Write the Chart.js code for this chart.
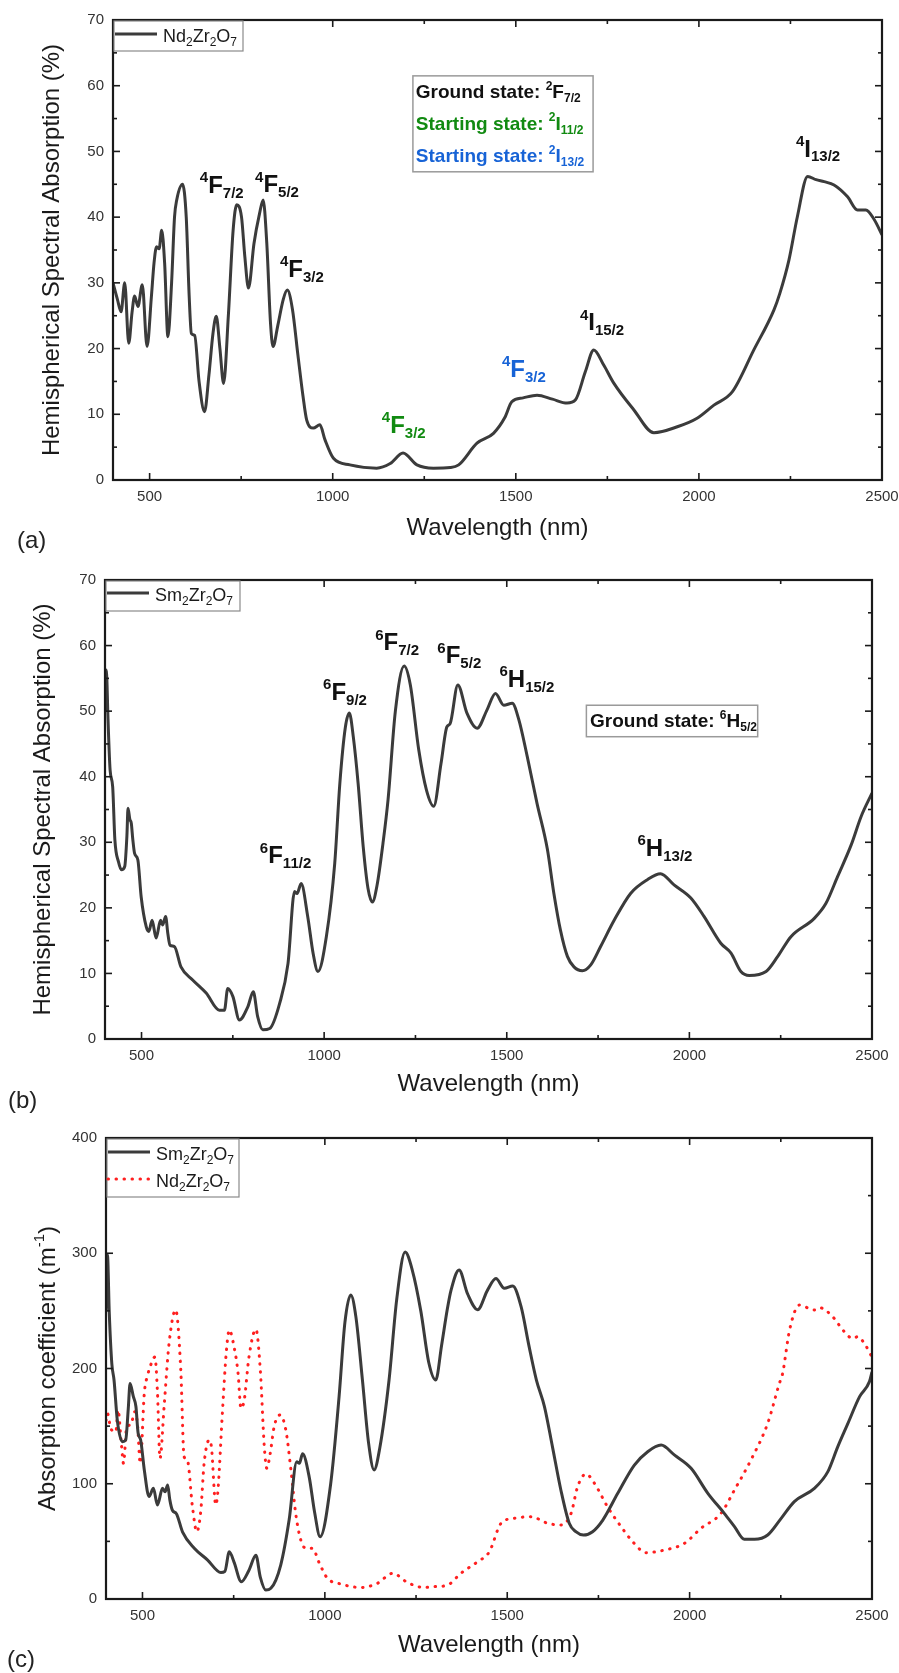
<!DOCTYPE html>
<html>
<head>
<meta charset="utf-8">
<script src="https://cdn.jsdelivr.net/npm/chart.js@4.4.1/dist/chart.umd.min.js"></script>
<style>
  body { margin: 0; background: #fff; width: 899px; height: 1673px; position: relative; overflow: hidden;
         font-family: 'Liberation Sans', Arial, sans-serif; }
  .panel { position: absolute; left: 0; width: 899px; }
  .tag { position: absolute; font-size: 24px; line-height: 28px; color: #222; }
</style>
</head>
<body>
<div class="panel" style="top:0;height:548px"><canvas id="chartA"></canvas></div>
<div class="panel" style="top:548px;height:560px"><canvas id="chartB"></canvas></div>
<div class="panel" style="top:1108px;height:565px"><canvas id="chartC"></canvas></div>
<div class="tag" style="left:17px;top:526px">(a)</div>
<div class="tag" style="left:8px;top:1086px">(b)</div>
<div class="tag" style="left:7px;top:1645px">(c)</div>

<script>
// ---- panel (a): Nd2Zr2O7, hemispherical spectral absorption (%)
const ndWaveA = [400, 412, 422, 432, 443, 452, 459, 468, 480, 493, 505, 512, 519, 526, 533, 541, 550, 560, 568, 574,
  590, 600, 608, 614, 623, 635, 650, 662, 673, 682, 692, 702, 715, 728, 738, 751, 760, 770, 785, 800,
  810, 820, 830, 837, 850, 865, 876, 890, 905, 919, 929, 947, 965, 979, 1002, 1047, 1120, 1157, 1192, 1230,
  1275, 1321, 1344, 1394, 1439, 1470, 1489, 1520, 1558, 1600, 1640, 1663, 1690, 1713, 1740, 1768, 1822, 1877, 1941, 1995,
  2041, 2091, 2150, 2205, 2221, 2246, 2269, 2297, 2320, 2342, 2369, 2406, 2433, 2456, 2479, 2500];
const ndAbsA = [30.0, 27.5, 25.6, 30.0, 20.8, 25.5, 28.0, 26.4, 29.7, 20.3, 28.0, 33.0, 35.5, 35.2, 38.0, 33.0, 21.8, 30.0, 40.0, 42.6,
  45.0, 40.0, 28.0, 22.3, 22.0, 15.0, 10.4, 16.0, 22.3, 24.9, 20.0, 14.7, 25.0, 38.0, 41.9, 40.0, 34.0, 29.2, 36.0, 40.5,
  42.6, 36.0, 24.0, 20.3, 23.5, 27.5, 28.9, 26.0, 19.0, 12.7, 9.1, 7.9, 8.4, 6.1, 3.3, 2.3, 1.8, 2.5, 4.1, 2.3,
  1.8, 1.9, 2.3, 5.6, 7.1, 9.5, 11.9, 12.5, 12.9, 12.3, 11.7, 12.2, 16.5, 19.8, 17.5, 14.7, 10.7, 7.2, 8.1, 9.4,
  11.4, 13.4, 19.8, 25.9, 28.4, 33.5, 40.1, 46.2, 45.7, 45.4, 44.9, 43.1, 41.1, 41.1, 39.6, 37.3];

// ---- panel (b): Sm2Zr2O7, hemispherical spectral absorption (%)
const smWaveB = [400, 402, 405, 408, 414, 421, 427, 437, 445, 454, 460, 463, 468, 472, 476, 481, 490, 499, 513, 520,
  529, 540, 552, 558, 566, 572, 578, 590, 608, 640, 677, 713, 727, 736, 750, 768, 791, 806, 818, 832,
  851, 878, 901, 919, 926, 937, 955, 970, 983, 1006, 1029, 1043, 1058, 1069, 1080, 1093, 1107, 1120, 1132, 1145,
  1161, 1175, 1195, 1219, 1236, 1259, 1280, 1300, 1320, 1336, 1345, 1366, 1391, 1419, 1446, 1469, 1492, 1515, 1533, 1556,
  1583, 1611, 1629, 1647, 1666, 1684, 1707, 1730, 1757, 1794, 1839, 1885, 1921, 1958, 2004, 2040, 2086, 2114, 2141, 2164,
  2210, 2242, 2278, 2342, 2374, 2406, 2443, 2470, 2500];
const smAbsB = [50.0, 56.3, 55.0, 49.2, 41.0, 38.5, 30.4, 27.0, 25.8, 26.3, 31.0, 35.2, 33.5, 32.9, 30.5, 28.3, 27.3, 21.7, 17.1, 16.4,
  18.1, 15.4, 18.1, 17.4, 18.7, 16.1, 14.3, 14.1, 11.0, 9.0, 7.0, 4.4, 4.4, 7.7, 6.5, 2.9, 4.9, 7.2, 3.4, 1.4,
  1.6, 5.4, 11.5, 22.5, 22.2, 23.7, 18.7, 13.0, 10.3, 15.6, 26.8, 39.0, 47.5, 49.7, 46.0, 39.0, 29.3, 23.0, 20.9, 23.5,
  29.8, 36.5, 50.0, 56.9, 54.0, 44.1, 38.0, 35.5, 42.0, 47.6, 48.1, 54.0, 49.7, 47.4, 50.2, 52.7, 50.9, 51.2, 48.7, 43.1,
  35.9, 29.0, 22.2, 16.6, 12.6, 11.0, 10.4, 11.3, 14.1, 18.1, 22.2, 24.3, 25.2, 23.5, 21.5, 18.7, 14.6, 13.1, 10.3, 9.7,
  10.3, 12.6, 15.6, 18.4, 20.7, 24.8, 29.6, 33.9, 37.5];

// ---- panel (c): absorption coefficient (m^-1)
const smWaveC = [400, 404, 409, 416, 422, 431, 445, 454, 461, 466, 475, 482, 488, 495, 505, 518, 530, 541, 555, 562,
  569, 575, 582, 593, 610, 642, 678, 715, 726, 738, 751, 771, 792, 811, 823, 838, 852, 879, 902, 923,
  930, 939, 957, 972, 987, 1016, 1039, 1055, 1071, 1085, 1103, 1120, 1135, 1150, 1176, 1197, 1220, 1240, 1263, 1285,
  1304, 1320, 1336, 1346, 1368, 1391, 1419, 1446, 1469, 1492, 1515, 1538, 1560, 1580, 1602, 1624, 1647, 1670, 1688, 1709,
  1734, 1762, 1803, 1848, 1885, 1922, 1958, 2004, 2050, 2095, 2123, 2150, 2178, 2214, 2251, 2287, 2342, 2379, 2406, 2434,
  2466, 2493, 2500];
const smCoefC = [250, 298.5, 248, 204, 190, 155, 136.5, 138, 165, 187, 175.5, 167, 144, 138, 112, 89, 96, 81.6, 96, 93,
  99, 86, 77, 74, 58, 44, 34, 23, 24, 41, 32, 15, 25, 38, 19, 7.8, 9.3, 29.5, 68.5, 119,
  117.7, 126, 106, 75, 54, 100, 175.6, 240, 263.8, 245, 190, 135, 112, 130, 190, 260, 301, 285, 250, 205,
  190, 220, 252, 268, 285.5, 265, 251, 268, 278, 269.6, 271.6, 253.6, 219, 190, 167, 132, 94.6, 65.7, 58.4, 55.5,
  58.4, 68.5, 91.7, 116, 127.8, 133.6, 125, 113.4, 91.7, 74.3, 62.8, 51.8, 51.8, 55.5, 70, 84.5, 96, 110.5, 132, 152.4,
  175.6, 188.6, 197];

const ndWaveC = [400, 404, 413, 427, 433, 442, 448, 457, 468, 479, 486, 494, 505, 514, 525, 534, 541, 548, 560, 573,
  591, 605, 614, 623, 637, 649, 660, 669, 683, 689, 701, 707, 719, 730, 738, 751, 762, 770, 779, 792,
  811, 823, 834, 841, 850, 861, 877, 893, 907, 920, 934, 948, 966, 985, 1007, 1044, 1099, 1144, 1186, 1227,
  1272, 1300, 1336, 1373, 1419, 1451, 1483, 1519, 1565, 1611, 1647, 1675, 1693, 1716, 1739, 1775, 1812, 1848, 1880, 1931,
  1986, 2031, 2086, 2123, 2168, 2214, 2246, 2255, 2274, 2301, 2342, 2356, 2388, 2424, 2447, 2461, 2479, 2500];
const ndCoefC = [155, 161, 148, 145, 164, 135, 117.7, 149.5, 151, 162.5, 152.4, 117.7, 178.5, 194, 205, 210, 180, 122, 170, 222,
  250.8, 198.7, 123.5, 120.6, 80, 58.4, 77, 117.7, 138, 132, 81.6, 94.6, 161, 215, 233.4, 219, 196, 165.4, 172.7, 210,
  234, 198.7, 132, 113.4, 126, 149.5, 159.7, 146.6, 112, 74.3, 51.2, 44, 44, 31, 18, 13, 10, 13.6, 22.3, 14.2,
  10, 10.7, 12, 22.3, 32.4, 41, 65.7, 70, 71.4, 65.7, 64.2, 74.3, 97.5, 108.5, 100.4, 80, 62.8, 48.3, 40.2, 42.5,
  48.3, 61.3, 74.3, 94.6, 120.6, 152.4, 187, 195.8, 233.4, 255, 250.8, 252.8, 246.4, 232, 226, 227.6, 221.8, 210];

// ---- ticks
const xMajorTicks = [500, 1000, 1500, 2000, 2500];
const xMinorTicks = [750, 1250, 1750, 2250];
const pctMajor = [0, 10, 20, 30, 40, 50, 60, 70];
const pctMinor = [5, 15, 25, 35, 45, 55, 65];
const coefMajor = [0, 100, 200, 300, 400];
const coefMinor = [50, 150, 250, 350];

const FAM = "'Liberation Sans', Arial, sans-serif";
const DARK = '#3b3b3b';
const RED = '#ff1f1f';
const GREEN = '#118a11';
const BLUE = '#1763d6';
Chart.defaults.font.family = FAM;

const pts = (xs, ys) => xs.map((x, i) => ({ x: x, y: ys[i] }));

// draws text with ^sup and _sub segments
function drawRich(ctx, parts, x, y, size, weight, color, align) {
  const segs = parts.map(p => {
    const mode = p[0] === '^' ? 'sup' : (p[0] === '_' ? 'sub' : 'n');
    const text = mode === 'n' ? p : p.slice(1);
    const s = mode === 'n' ? size : Math.round(size * 0.64);
    ctx.font = weight + ' ' + s + 'px ' + FAM;
    return { text, mode, s, w: ctx.measureText(text).width };
  });
  const total = segs.reduce((a, g) => a + g.w, 0);
  let cx = align === 'center' ? x - total / 2 : x;
  ctx.fillStyle = color;
  ctx.textAlign = 'left';
  ctx.textBaseline = 'alphabetic';
  segs.forEach(g => {
    ctx.font = weight + ' ' + g.s + 'px ' + FAM;
    const dy = g.mode === 'sup' ? -size * 0.44 : (g.mode === 'sub' ? size * 0.2 : 0);
    ctx.fillText(g.text, cx, y + dy);
    cx += g.w;
  });
}

// frame, inward ticks, legend, annotations
function makeDecor(cfg) {
  return {
    id: 'decor',
    afterDraw(chart) {
      const ctx = chart.ctx;
      const { left, right, top, bottom } = chart.chartArea;
      const xs = chart.scales.x, ys = chart.scales.y;
      ctx.save();
      ctx.strokeStyle = '#1a1a1a';
      ctx.lineWidth = 1.6;
      const seg = (x1, y1, x2, y2) => { ctx.beginPath(); ctx.moveTo(x1, y1); ctx.lineTo(x2, y2); ctx.stroke(); };
      xMajorTicks.forEach(v => { const p = xs.getPixelForValue(v); seg(p, bottom, p, bottom - 7); seg(p, top, p, top + 7); });
      xMinorTicks.forEach(v => { const p = xs.getPixelForValue(v); seg(p, bottom, p, bottom - 4); seg(p, top, p, top + 4); });
      cfg.yMajor.forEach(v => { const p = ys.getPixelForValue(v); seg(left, p, left + 7, p); seg(right, p, right - 7, p); });
      cfg.yMinor.forEach(v => { const p = ys.getPixelForValue(v); seg(left, p, left + 4, p); seg(right, p, right - 4, p); });
      ctx.lineWidth = 2.2;
      ctx.strokeRect(left, top, right - left, bottom - top);

      // legend box
      const lg = cfg.legend;
      ctx.fillStyle = '#fff';
      ctx.fillRect(left + 1, top + 1, lg.w, lg.h);
      ctx.strokeStyle = '#8a8a8a';
      ctx.lineWidth = 1.2;
      ctx.strokeRect(left + 1, top + 1, lg.w, lg.h);
      lg.items.forEach(it => {
        ctx.strokeStyle = it.color;
        ctx.lineWidth = 3;
        ctx.lineCap = it.dotted ? 'round' : 'butt';
        ctx.setLineDash(it.dotted ? [0.5, 7.5] : []);
        seg(left + 2, top + it.dy, left + 44, top + it.dy);
        ctx.setLineDash([]);
        ctx.lineCap = 'butt';
        drawRich(ctx, it.parts, left + 50, top + it.dy + 8, 18, 'normal', '#1a1a1a', 'left');
      });

      // info box
      if (cfg.box) {
        const b = cfg.box;
        const x0 = xs.getPixelForValue(b.x0), x1 = xs.getPixelForValue(b.x1);
        const y0 = ys.getPixelForValue(b.y0), y1 = ys.getPixelForValue(b.y1);
        ctx.strokeStyle = '#9a9a9a';
        ctx.lineWidth = 1.5;
        ctx.strokeRect(x0, y0, x1 - x0, y1 - y0);
        b.lines.forEach(l => drawRich(ctx, l.parts, xs.getPixelForValue(b.tx), ys.getPixelForValue(l.y), 19, 'bold', l.color, 'left'));
      }

      // level labels
      (cfg.notes || []).forEach(n => drawRich(ctx, n.parts, xs.getPixelForValue(n.x), ys.getPixelForValue(n.y), 24, 'bold', n.color, 'left'));

      // rotated y title with superscript
      if (cfg.yTitle) {
        ctx.save();
        ctx.translate(cfg.yTitle.cx, (top + bottom) / 2);
        ctx.rotate(-Math.PI / 2);
        drawRich(ctx, cfg.yTitle.parts, 0, 8.5, 24, 'normal', '#1a1a1a', 'center');
        ctx.restore();
      }
      ctx.restore();
    }
  };
}

function makePanel(id, p) {
  return new Chart(document.getElementById(id), {
    type: 'line',
    data: { datasets: p.datasets },
    options: {
      responsive: true,
      maintainAspectRatio: false,
      animation: false,
      devicePixelRatio: 1,
      events: [],
      layout: { padding: { top: p.padTop, right: p.padRight, left: 0, bottom: 0 } },
      plugins: { legend: { display: false }, tooltip: { enabled: false } },
      elements: { point: { radius: 0 }, line: { cubicInterpolationMode: 'monotone' } },
      scales: {
        x: {
          type: 'linear', min: 400, max: 2500,
          grid: { display: false, drawTicks: false },
          border: { display: false },
          afterBuildTicks: s => { s.ticks = xMajorTicks.map(v => ({ value: v })); },
          afterFit: s => { s.height = p.xH; s.paddingLeft = 0; s.paddingRight = 0; },
          ticks: { padding: 8, color: '#333', font: { size: 15 }, maxRotation: 0, autoSkip: false,
                   callback: v => String(v) },
          title: { display: true, text: 'Wavelength (nm)', color: '#1a1a1a', font: { size: 24 },
                   padding: { top: 0, bottom: p.xTitlePad } }
        },
        y: {
          min: p.yMin, max: p.yMax,
          grid: { display: false, drawTicks: false },
          border: { display: false },
          afterBuildTicks: s => { s.ticks = p.yMajor.map(v => ({ value: v })); },
          afterFit: s => { s.width = p.yW; s.paddingTop = 0; s.paddingBottom = 0; },
          ticks: { padding: 9, color: '#333', font: { size: 15 }, callback: v => String(v) },
          title: { display: !!p.yTitleText, text: p.yTitleText || '', color: '#1a1a1a', font: { size: 24 },
                   padding: { top: p.yTitlePad || 0, bottom: 0 } }
        }
      }
    },
    plugins: [makeDecor(p.decor)]
  });
}

const solid = (data) => ({ data, borderColor: DARK, borderWidth: 3, fill: false });

makePanel('chartA', {
  datasets: [solid(pts(ndWaveA, ndAbsA))],
  padTop: 20, padRight: 17, yW: 113, xH: 68, xTitlePad: 5,
  yMin: 0, yMax: 70, yMajor: pctMajor,
  yTitleText: 'Hemispherical Spectral Absorption (%)', yTitlePad: 38,
  decor: {
    yMajor: pctMajor, yMinor: pctMinor,
    legend: { w: 129, h: 30, items: [{ color: DARK, dy: 14, parts: ['Nd', '_2', 'Zr', '_2', 'O', '_7'] }] },
    box: {
      x0: 1219, x1: 1711, y0: 61.5, y1: 46.9, tx: 1227,
      lines: [
        { y: 58.1, color: '#111', parts: ['Ground state: ', '^2', 'F', '_7/2'] },
        { y: 53.3, color: GREEN, parts: ['Starting state: ', '^2', 'I', '_11/2'] },
        { y: 48.4, color: BLUE, parts: ['Starting state: ', '^2', 'I', '_13/2'] }
      ]
    },
    notes: [
      { x: 637, y: 43.7, color: '#111', parts: ['^4', 'F', '_7/2'] },
      { x: 788, y: 43.8, color: '#111', parts: ['^4', 'F', '_5/2'] },
      { x: 856, y: 30.9, color: '#111', parts: ['^4', 'F', '_3/2'] },
      { x: 1134, y: 7.15, color: GREEN, parts: ['^4', 'F', '_3/2'] },
      { x: 1462, y: 15.7, color: BLUE, parts: ['^4', 'F', '_3/2'] },
      { x: 1675, y: 22.8, color: '#111', parts: ['^4', 'I', '_15/2'] },
      { x: 2265, y: 49.2, color: '#111', parts: ['^4', 'I', '_13/2'] }
    ]
  }
});

makePanel('chartB', {
  datasets: [solid(pts(smWaveB, smAbsB))],
  padTop: 32, padRight: 27, yW: 105, xH: 69, xTitlePad: 9,
  yMin: 0, yMax: 70, yMajor: pctMajor,
  yTitleText: 'Hemispherical Spectral Absorption (%)', yTitlePad: 29,
  decor: {
    yMajor: pctMajor, yMinor: pctMinor,
    legend: { w: 134, h: 30, items: [{ color: DARK, dy: 13, parts: ['Sm', '_2', 'Zr', '_2', 'O', '_7'] }] },
    box: {
      x0: 1718, x1: 2187, y0: 50.9, y1: 46.1, tx: 1728,
      lines: [{ y: 47.6, color: '#111', parts: ['Ground state: ', '^6', 'H', '_5/2'] }]
    },
    notes: [
      { x: 824, y: 26.8, color: '#111', parts: ['^6', 'F', '_11/2'] },
      { x: 997, y: 51.7, color: '#111', parts: ['^6', 'F', '_9/2'] },
      { x: 1140, y: 59.3, color: '#111', parts: ['^6', 'F', '_7/2'] },
      { x: 1310, y: 57.3, color: '#111', parts: ['^6', 'F', '_5/2'] },
      { x: 1480, y: 53.7, color: '#111', parts: ['^6', 'H', '_15/2'] },
      { x: 1858, y: 27.9, color: '#111', parts: ['^6', 'H', '_13/2'] }
    ]
  }
});

makePanel('chartC', {
  datasets: [
    solid(pts(smWaveC, smCoefC)),
    { data: pts(ndWaveC, ndCoefC), borderColor: RED, borderWidth: 3, borderDash: [0.5, 7.5],
      borderCapStyle: 'round', fill: false }
  ],
  padTop: 30, padRight: 27, yW: 106, xH: 74, xTitlePad: 13,
  yMin: 0, yMax: 400, yMajor: coefMajor,
  decor: {
    yMajor: coefMajor, yMinor: coefMinor,
    yTitle: { cx: 46, parts: ['Absorption coefficient (m', '^-1', ')'] },
    legend: { w: 132, h: 58, items: [
      { color: DARK, dy: 14, parts: ['Sm', '_2', 'Zr', '_2', 'O', '_7'] },
      { color: RED, dy: 41, dotted: true, parts: ['Nd', '_2', 'Zr', '_2', 'O', '_7'] }
    ] }
  }
});
</script>
</body>
</html>
